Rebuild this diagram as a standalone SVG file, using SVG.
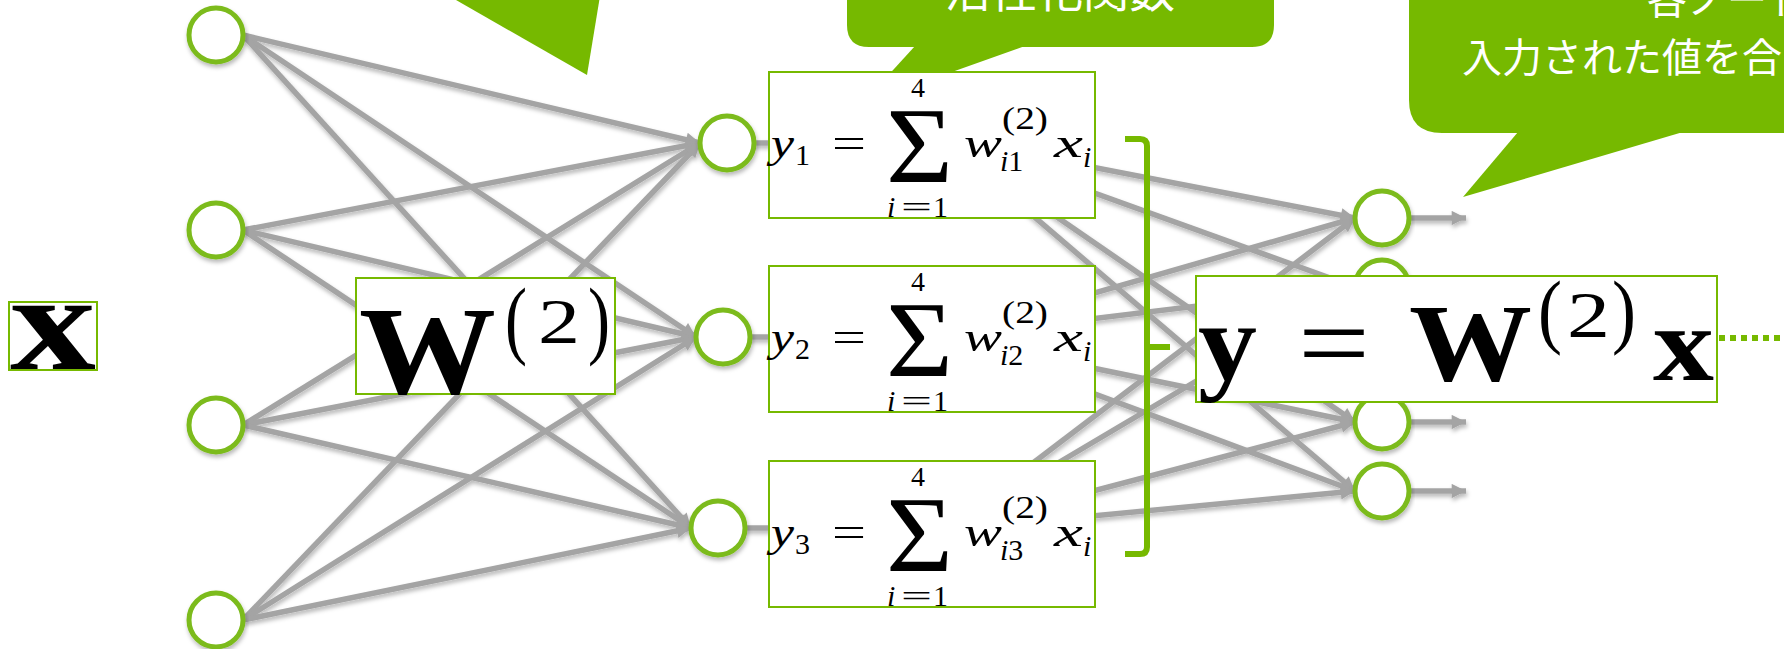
<svg xmlns="http://www.w3.org/2000/svg" width="1784" height="649" viewBox="0 0 1784 649">
<defs>
  <style>
    .node{fill:#fff;stroke:#7bbb1c;stroke-width:5}
    .box{fill:#fff;stroke:#76b900;stroke-width:2}
    .edge{stroke:#a4a4a4;stroke-width:5.5;fill:none;marker-end:url(#arr)}
    .stub{stroke:#a4a4a4;stroke-width:5.5;fill:none}
    .call{fill:#76b900}
    .ctext{font-family:"Noto Sans CJK JP","Noto Sans",sans-serif;fill:#fff}
    .mi{font-family:"Liberation Serif",serif;font-style:italic;fill:#000}
    .rm{font-family:"Liberation Serif",serif;fill:#000}
    .bf{font-family:"Liberation Serif",serif;font-weight:bold;fill:#000}
  </style>
  <marker id="arr" viewBox="0 0 10 10" refX="10" refY="5" markerWidth="3" markerHeight="2.6" orient="auto" markerUnits="strokeWidth">
    <path d="M0,0 L10,5 L0,10 z" fill="#a4a4a4"/>
  </marker>
  <filter id="sh" x="-10%" y="-10%" width="120%" height="130%">
    <feDropShadow dx="1" dy="3" stdDeviation="2" flood-color="#000" flood-opacity="0.28"/>
  </filter>
</defs>
<rect width="1784" height="649" fill="#fff"/>

<!-- connectors -->
<g id="connectors" filter="url(#sh)">
  <!-- input layer to hidden layer -->
  <line class="edge" x1="243" y1="35" x2="700" y2="143"/>
  <line class="edge" x1="243" y1="35" x2="696" y2="337"/>
  <line class="edge" x1="243" y1="35" x2="691" y2="528"/>
  <line class="edge" x1="243" y1="230" x2="700" y2="143"/>
  <line class="edge" x1="243" y1="230" x2="696" y2="337"/>
  <line class="edge" x1="243" y1="230" x2="691" y2="528"/>
  <line class="edge" x1="243" y1="425" x2="700" y2="143"/>
  <line class="edge" x1="243" y1="425" x2="696" y2="337"/>
  <line class="edge" x1="243" y1="425" x2="691" y2="528"/>
  <line class="edge" x1="243" y1="620" x2="700" y2="143"/>
  <line class="edge" x1="243" y1="620" x2="696" y2="337"/>
  <line class="edge" x1="243" y1="620" x2="691" y2="528"/>
  <!-- hidden node stubs -->
  <line class="stub" x1="752" y1="143" x2="772" y2="143"/>
  <line class="stub" x1="748" y1="337" x2="772" y2="337"/>
  <line class="stub" x1="743" y1="528" x2="772" y2="528"/>
  <!-- hidden layer to output layer -->
  <line class="edge" x1="942" y1="138" x2="1355" y2="218"/>
  <line class="edge" x1="942" y1="138" x2="1355" y2="287"/>
  <line class="edge" x1="942" y1="138" x2="1355" y2="422"/>
  <line class="edge" x1="942" y1="138" x2="1355" y2="491"/>
  <line class="edge" x1="942" y1="337" x2="1355" y2="218"/>
  <line class="edge" x1="942" y1="337" x2="1355" y2="287"/>
  <line class="edge" x1="942" y1="337" x2="1355" y2="422"/>
  <line class="edge" x1="942" y1="337" x2="1355" y2="491"/>
  <line class="edge" x1="945" y1="530" x2="1355" y2="218"/>
  <line class="edge" x1="945" y1="530" x2="1355" y2="287"/>
  <line class="edge" x1="945" y1="530" x2="1355" y2="422"/>
  <line class="edge" x1="945" y1="530" x2="1355" y2="491"/>
  <!-- outputs -->
  <line class="edge" x1="1409" y1="218" x2="1466" y2="218"/>
  <line class="edge" x1="1409" y1="422" x2="1466" y2="422"/>
  <line class="edge" x1="1409" y1="491" x2="1466" y2="491"/>
</g>

<!-- input layer -->
<g id="input-nodes" filter="url(#sh)">
  <circle id="in1" class="node" cx="216" cy="35" r="27"/>
  <circle id="in2" class="node" cx="216" cy="230" r="27"/>
  <circle id="in3" class="node" cx="216" cy="425" r="27"/>
  <circle id="in4" class="node" cx="216" cy="620" r="27"/>
</g>
<!-- hidden layer -->
<g id="hidden-nodes" filter="url(#sh)">
  <circle id="h1" class="node" cx="727" cy="143" r="27"/>
  <circle id="h2" class="node" cx="723" cy="337" r="27"/>
  <circle id="h3" class="node" cx="718" cy="528" r="27"/>
</g>
<!-- output layer -->
<g id="output-nodes" filter="url(#sh)">
  <circle id="o1" class="node" cx="1382" cy="218" r="27"/>
  <circle id="o2" class="node" cx="1382" cy="287" r="27"/>
  <circle id="o3" class="node" cx="1382" cy="422" r="27"/>
  <circle id="o4" class="node" cx="1382" cy="491" r="27"/>
</g>

<!-- callouts -->
<g id="callout-weight">
  <polygon class="call" points="449,-4 600,-4 587,75"/>
</g>
<g id="callout-activation">
  <path class="call" d="M847,-40 H1274 V25 Q1274,47 1252,47 H869 Q847,47 847,25 Z"/>
  <polygon class="call" points="915,46 1025,46 862,104"/>
  <text class="ctext" x="1060" y="7" font-size="46" text-anchor="middle">活性化関数</text>
</g>
<g id="callout-node">
  <path class="call" d="M1409,-60 H1800 V133 H1442 Q1409,133 1409,100 Z"/>
  <polygon class="call" points="1518,132 1683,132 1463,197"/>
  <text class="ctext" x="1647" y="14" font-size="40">各ノード</text>
  <text class="ctext" x="1462" y="72" font-size="40">入力された値を合</text>
</g>

<!-- input vector label -->
<g id="label-x" transform="translate(9,302)">
  <rect class="box" width="88" height="68"/>
  <text class="bf" x="1" y="67" font-size="138" textLength="86" lengthAdjust="spacingAndGlyphs">x</text>
</g>

<!-- weight matrix label -->
<g id="label-W" transform="translate(356,278)">
  <rect class="box" width="259" height="116"/>
  <text class="bf" x="3" y="115" font-size="125" textLength="137" lengthAdjust="spacingAndGlyphs">W</text>
  <text class="rm" x="149" y="70" font-size="86" textLength="22" lengthAdjust="spacingAndGlyphs">(</text>
  <text class="rm" x="182" y="65" font-size="64" textLength="42" lengthAdjust="spacingAndGlyphs">2</text>
  <text class="rm" x="232" y="70" font-size="86" textLength="22" lengthAdjust="spacingAndGlyphs">)</text>
</g>

<!-- weighted sums -->
<g id="sum1" transform="translate(769,72)">
  <rect class="box" width="326" height="146"/>
  <text class="mi" x="2" y="85" font-size="42" textLength="23" lengthAdjust="spacingAndGlyphs">y</text>
  <text class="rm" x="26" y="93" font-size="30">1</text>
  <text class="rm" x="63" y="85" font-size="42" textLength="34" lengthAdjust="spacingAndGlyphs">=</text>
  <text class="rm" x="117" y="110" font-size="109" textLength="67" lengthAdjust="spacingAndGlyphs">Σ</text>
  <text class="rm" x="142" y="25" font-size="28">4</text>
  <text class="mi" x="118" y="145" font-size="30">i</text>
  <text class="rm" x="132" y="145" font-size="30" textLength="31" lengthAdjust="spacingAndGlyphs">=</text>
  <text class="rm" x="164" y="145" font-size="30">1</text>
  <text class="mi" x="195" y="85" font-size="42" textLength="38" lengthAdjust="spacingAndGlyphs">w</text>
  <text class="rm" x="233" y="57" font-size="32" textLength="46" lengthAdjust="spacingAndGlyphs">(2)</text>
  <text x="231" y="99" font-size="30"><tspan class="mi">i</tspan><tspan class="rm">1</tspan></text>
  <text class="mi" x="285" y="85" font-size="42" textLength="29" lengthAdjust="spacingAndGlyphs">x</text>
  <text class="mi" x="314" y="95" font-size="30">i</text>
</g>
<g id="sum2" transform="translate(769,266)">
  <rect class="box" width="326" height="146"/>
  <text class="mi" x="2" y="85" font-size="42" textLength="23" lengthAdjust="spacingAndGlyphs">y</text>
  <text class="rm" x="26" y="93" font-size="30">2</text>
  <text class="rm" x="63" y="85" font-size="42" textLength="34" lengthAdjust="spacingAndGlyphs">=</text>
  <text class="rm" x="117" y="110" font-size="109" textLength="67" lengthAdjust="spacingAndGlyphs">Σ</text>
  <text class="rm" x="142" y="25" font-size="28">4</text>
  <text class="mi" x="118" y="145" font-size="30">i</text>
  <text class="rm" x="132" y="145" font-size="30" textLength="31" lengthAdjust="spacingAndGlyphs">=</text>
  <text class="rm" x="164" y="145" font-size="30">1</text>
  <text class="mi" x="195" y="85" font-size="42" textLength="38" lengthAdjust="spacingAndGlyphs">w</text>
  <text class="rm" x="233" y="57" font-size="32" textLength="46" lengthAdjust="spacingAndGlyphs">(2)</text>
  <text x="231" y="99" font-size="30"><tspan class="mi">i</tspan><tspan class="rm">2</tspan></text>
  <text class="mi" x="285" y="85" font-size="42" textLength="29" lengthAdjust="spacingAndGlyphs">x</text>
  <text class="mi" x="314" y="95" font-size="30">i</text>
</g>
<g id="sum3" transform="translate(769,461)">
  <rect class="box" width="326" height="146"/>
  <text class="mi" x="2" y="85" font-size="42" textLength="23" lengthAdjust="spacingAndGlyphs">y</text>
  <text class="rm" x="26" y="93" font-size="30">3</text>
  <text class="rm" x="63" y="85" font-size="42" textLength="34" lengthAdjust="spacingAndGlyphs">=</text>
  <text class="rm" x="117" y="110" font-size="109" textLength="67" lengthAdjust="spacingAndGlyphs">Σ</text>
  <text class="rm" x="142" y="25" font-size="28">4</text>
  <text class="mi" x="118" y="145" font-size="30">i</text>
  <text class="rm" x="132" y="145" font-size="30" textLength="31" lengthAdjust="spacingAndGlyphs">=</text>
  <text class="rm" x="164" y="145" font-size="30">1</text>
  <text class="mi" x="195" y="85" font-size="42" textLength="38" lengthAdjust="spacingAndGlyphs">w</text>
  <text class="rm" x="233" y="57" font-size="32" textLength="46" lengthAdjust="spacingAndGlyphs">(2)</text>
  <text x="231" y="99" font-size="30"><tspan class="mi">i</tspan><tspan class="rm">3</tspan></text>
  <text class="mi" x="285" y="85" font-size="42" textLength="29" lengthAdjust="spacingAndGlyphs">x</text>
  <text class="mi" x="314" y="95" font-size="30">i</text>
</g>

<!-- bracket grouping the three sums -->
<g id="bracket">
  <path d="M1125,139 H1140 Q1147,139 1147,146 V547 Q1147,554 1140,554 H1125 M1147,347 H1170" fill="none" stroke="#76b900" stroke-width="6"/>
</g>

<!-- matrix form -->
<g id="matrix-form" transform="translate(1196,276)">
  <rect class="box" width="521" height="126"/>
  <text class="bf" x="2" y="104" font-size="110" textLength="59" lengthAdjust="spacingAndGlyphs">y</text>
  <text class="rm" x="102" y="104" font-size="110" textLength="72" lengthAdjust="spacingAndGlyphs">=</text>
  <text class="bf" x="213" y="104" font-size="110" textLength="123" lengthAdjust="spacingAndGlyphs">W</text>
  <text class="rm" x="342" y="62" font-size="83" textLength="24" lengthAdjust="spacingAndGlyphs">(</text>
  <text class="rm" x="371" y="61" font-size="65" textLength="43" lengthAdjust="spacingAndGlyphs">2</text>
  <text class="rm" x="416" y="62" font-size="83" textLength="24" lengthAdjust="spacingAndGlyphs">)</text>
  <text class="bf" x="457" y="104" font-size="105" textLength="61" lengthAdjust="spacingAndGlyphs">x</text>
</g>
<line id="dots" x1="1719" y1="338" x2="1784" y2="338" stroke="#76b900" stroke-width="6" stroke-dasharray="6 5"/>
</svg>
